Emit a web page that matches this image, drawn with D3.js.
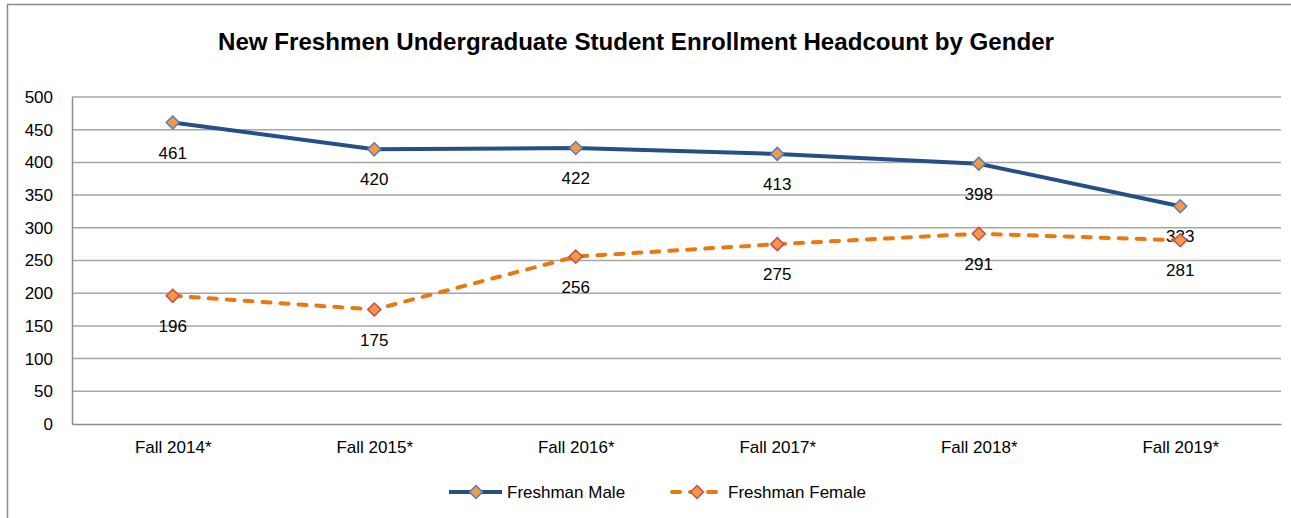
<!DOCTYPE html>
<html><head><meta charset="utf-8">
<script src="https://cdn.jsdelivr.net/npm/d3@7"></script>
<style>body{margin:0;background:#fff}svg{display:block}text{font-family:"Liberation Sans",Arial,sans-serif}</style>
</head><body><svg id="c" width="1291" height="518"></svg>
<script>
const categories = ["Fall 2014*","Fall 2015*","Fall 2016*","Fall 2017*","Fall 2018*","Fall 2019*"];
const maleValues = [461,420,422,413,398,333];
const femaleValues = [196,175,256,275,291,281];
const yTicks = [0,50,100,150,200,250,300,350,400,450,500];
const title = "New Freshmen Undergraduate Student Enrollment Headcount by Gender";
const seriesNames = ["Freshman Male","Freshman Female"];

const FONT = '"Liberation Sans",Arial,sans-serif';
const FS = 17;
const svg = d3.select("#c");
svg.append("rect").attr("x",7.5).attr("y",4.5).attr("width",1300).attr("height",530)
  .attr("fill","#fff").attr("stroke","#8c8c8c").attr("stroke-width",1.5);

const L=72,R=1281,T=97,B=424;
const x = d3.scalePoint().domain(categories).range([L,R]).padding(0.5);
const y = d3.scaleLinear().domain([0,500]).range([B,T]);

const tt = svg.append("text").attr("x",636).attr("y",50).attr("text-anchor","middle")
  .attr("font-size",21).attr("font-weight","bold").attr("fill","#000").text(title);
const tw = tt.node().getComputedTextLength();
tt.attr("font-size",21*836/tw);

// gridlines
svg.append("g").selectAll("line").data(yTicks.filter(d=>d>0)).join("line")
  .attr("x1",L).attr("x2",R).attr("y1",d=>y(d)).attr("y2",d=>y(d))
  .attr("stroke","#a6a6a6").attr("stroke-width",1.5);

// axes
const ya = svg.append("g").attr("transform",`translate(${L},0)`)
  .call(d3.axisLeft(y).tickValues(yTicks).tickSize(0).tickPadding(19));
ya.select(".domain").attr("stroke","#8c8c8c").attr("stroke-width",1.5);
ya.selectAll("text").attr("font-size",FS).attr("fill","#000").style("font-family",FONT);

const xa = svg.append("g").attr("transform",`translate(0,${B})`)
  .call(d3.axisBottom(x).tickSize(0).tickPadding(17));
xa.select(".domain").attr("stroke","#8c8c8c").attr("stroke-width",1.5);
xa.selectAll("text").attr("font-size",FS).attr("fill","#000").style("font-family",FONT);

function diamondPath(s){ return `M0,${-s}L${s},0L0,${s}L${-s},0Z`; }

const series = [
  {name:seriesNames[0], vals:maleValues, color:"#264f86", dash:null, cap:"butt", mstroke:"#4f81bd"},
  {name:seriesNames[1], vals:femaleValues, color:"#e8780f", dash:"8,10", cap:"round", mstroke:"#c0504d"}
];
const line = d3.line().x((d,i)=>x(categories[i])).y(d=>y(d));
series.forEach(s=>{
  svg.append("path").attr("d",line(s.vals)).attr("fill","none").attr("stroke",s.color)
    .attr("stroke-width",4).attr("stroke-dasharray",s.dash).attr("stroke-linecap",s.cap);
  svg.append("g").selectAll("path").data(s.vals).join("path")
    .attr("d",diamondPath(6.5)).attr("transform",(d,i)=>`translate(${x(categories[i])},${y(d)})`)
    .attr("fill","#f79646").attr("stroke",s.mstroke).attr("stroke-width",1.5);
  svg.append("g").selectAll("text").data(s.vals).join("text")
    .attr("x",(d,i)=>x(categories[i])).attr("y",d=>y(d)+36).attr("text-anchor","middle")
    .attr("font-size",FS).attr("fill","#000").text(d=>d);
});

// legend
const leg = [{x0:449,x1:502,mx:476,tx:507},{x0:672,x1:717,mx:697,tx:728}];
series.forEach((s,i)=>{
  const g = svg.append("g");
  const l=leg[i], ly=492;
  g.append("line").attr("x1",l.x0).attr("x2",l.x1).attr("y1",ly).attr("y2",ly)
    .attr("stroke",s.color).attr("stroke-width",4).attr("stroke-linecap",s.cap)
    .attr("stroke-dasharray",s.dash?"8,10":null);
  g.append("path").attr("d",diamondPath(6.5)).attr("transform",`translate(${l.mx},${ly})`)
    .attr("fill","#f79646").attr("stroke",s.mstroke).attr("stroke-width",1.5);
  g.append("text").attr("x",l.tx).attr("y",ly+6).attr("font-size",FS).attr("fill","#000").text(s.name);
});
</script></body></html>
